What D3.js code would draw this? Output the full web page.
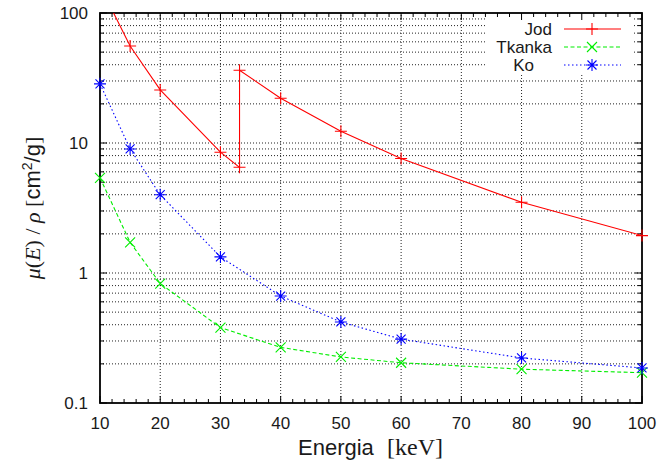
<!DOCTYPE html>
<html lang="pl">
<head>
<meta charset="UTF-8">
<title>Współczynnik osłabienia masowego</title>
<style>
    body { margin: 0; background: #fff; }
    svg { display: block; }
    .tick-label { font-family: "Liberation Sans", Arial, sans-serif; font-size: 17px; fill: #1a1a1a; }
    .legend-label { font-family: "Liberation Sans", Arial, sans-serif; font-size: 17px; fill: #1a1a1a; }
    .grid { stroke: #222; stroke-width: 1; stroke-dasharray: 1,2; fill: none; }
</style>
</head>
<body>
<div id="chart"></div>

<script src="https://cdn.jsdelivr.net/npm/d3@7"></script>
<script>
// energie [keV]
const energy = [10, 15, 20, 30, 40, 50, 60, 80, 100];
// jod ma krawedz K przy 33.17 keV, dlatego osobna os energii
const energyJod = [10, 15, 20, 30, 33.17, 33.17, 40, 50, 60, 80, 100];
const jod = [162, 55.7, 25.6, 8.5, 6.5, 36.3, 22.1, 12.3, 7.6, 3.5, 1.94];
const tkanka = [5.4, 1.72, 0.83, 0.38, 0.268, 0.226, 0.204, 0.182, 0.171];
const ko = [28.5, 9.0, 4.0, 1.33, 0.665, 0.42, 0.31, 0.222, 0.186];

const xTicks = [10, 20, 30, 40, 50, 60, 70, 80, 90, 100];
const yTicks = [0.1, 1, 10, 100];
const yTickLabels = ["0.1", "1", "10", "100"];
const seriesNames = ["Jod", "Tkanka", "Ko"];

const width = 659, height = 468;
const margin = { top: 13, right: 17, bottom: 65, left: 100 };

const svg = d3.select("#chart").append("svg")
    .attr("width", width)
    .attr("height", height);

const x = d3.scaleLinear().domain([10, 100]).range([margin.left, width - margin.right]);
const y = d3.scaleLog().domain([0.1, 100]).range([height - margin.bottom, margin.top]);

const x0 = x.range()[0], x1 = x.range()[1];
const y0 = y.range()[0], y1 = y.range()[1];

svg.append("defs").append("clipPath").attr("id", "plot-clip")
    .append("rect")
    .attr("x", x0).attr("y", y1)
    .attr("width", x1 - x0).attr("height", y0 - y1);

// minor y values: 2..9 x dekada
const yMinor = [];
[0.1, 1, 10].forEach(d => {
    for (let k = 2; k <= 9; k++) yMinor.push(d * k);
});
const xMinor = d3.range(10, 101, 2).filter(v => v % 10 !== 0);

// siatka
const grid = svg.append("g");
grid.selectAll(".gx").data(xTicks.slice(1, -1)).enter().append("line")
    .attr("class", "grid")
    .attr("x1", d => x(d)).attr("x2", d => x(d))
    .attr("y1", y0).attr("y2", y1);
grid.selectAll(".gy").data(yMinor.concat([1, 10])).enter().append("line")
    .attr("class", "grid")
    .attr("x1", x0).attr("x2", x1)
    .attr("y1", d => y(d)).attr("y2", d => y(d));

// tło legendy zakrywa siatkę
svg.append("rect")
    .attr("x", 485).attr("y", 15)
    .attr("width", 147).attr("height", 58)
    .attr("fill", "#fff");

// osie (ticki do środka, na wszystkich bokach)
const axes = svg.append("g").attr("stroke", "#000").attr("stroke-width", 1);
function xTick(v, len) {
    axes.append("line").attr("x1", x(v)).attr("x2", x(v)).attr("y1", y0).attr("y2", y0 - len);
    axes.append("line").attr("x1", x(v)).attr("x2", x(v)).attr("y1", y1).attr("y2", y1 + len);
}
function yTick(v, len) {
    axes.append("line").attr("x1", x0).attr("x2", x0 + len).attr("y1", y(v)).attr("y2", y(v));
    axes.append("line").attr("x1", x1).attr("x2", x1 - len).attr("y1", y(v)).attr("y2", y(v));
}
xTicks.forEach(v => xTick(v, 7));
xMinor.forEach(v => xTick(v, 4));
yTicks.forEach(v => yTick(v, 7));
yMinor.forEach(v => yTick(v, 4));

svg.append("rect")
    .attr("x", x0).attr("y", y1)
    .attr("width", x1 - x0).attr("height", y0 - y1)
    .attr("fill", "none").attr("stroke", "#000").attr("stroke-width", 1.8);

// etykiety ticków
svg.selectAll(".xl").data(xTicks).enter().append("text")
    .attr("class", "tick-label")
    .attr("x", d => x(d)).attr("y", y0 + 26)
    .attr("text-anchor", "middle")
    .text(d => d);
svg.selectAll(".yl").data(yTicks).enter().append("text")
    .attr("class", "tick-label")
    .attr("x", x0 - 12).attr("y", d => y(d) + 6)
    .attr("text-anchor", "end")
    .text((d, i) => yTickLabels[i]);

// tytuły osi
svg.append("text")
    .attr("x", 298).attr("y", 455)
    .attr("font-size", 22).attr("fill", "#1a1a1a")
    .attr("font-family", "Liberation Sans, Arial, sans-serif")
    .text("Energia");
svg.append("text")
    .attr("x", 387).attr("y", 455)
    .attr("font-size", 24).attr("fill", "#1a1a1a")
    .attr("font-family", "Liberation Serif, serif")
    .text("[keV]");

const yt = svg.append("text")
    .attr("transform", `translate(40,${(y0 + y1) / 2}) rotate(-90)`)
    .attr("text-anchor", "middle")
    .attr("font-size", 22).attr("fill", "#1a1a1a")
    .attr("font-family", "Liberation Serif, serif");
yt.append("tspan").attr("font-style", "italic").text("μ");
yt.append("tspan").text("(");
yt.append("tspan").attr("font-style", "italic").text("E");
yt.append("tspan").text(") / ");
yt.append("tspan").attr("font-style", "italic").text("ρ");
yt.append("tspan").text(" [");
yt.append("tspan").attr("font-family", "Liberation Sans, Arial, sans-serif").text("cm");
yt.append("tspan").attr("font-family", "Liberation Sans, Arial, sans-serif")
    .attr("font-size", 14).attr("dy", -8).text("2");
yt.append("tspan").attr("font-family", "Liberation Sans, Arial, sans-serif").attr("dy", 8).text("/g");
yt.append("tspan").text("]");

// serie
const markers = {
    plus: "M-6,0H6M0,-6V6",
    cross: "M-5,-5L5,5M-5,5L5,-5",
    star: "M-6,0H6M0,-6V6M-4.5,-4.5L4.5,4.5M-4.5,4.5L4.5,-4.5"
};
const series = [
    { name: seriesNames[0], xs: energyJod, ys: jod, color: "#ff0000", dash: null, marker: markers.plus },
    { name: seriesNames[1], xs: energy, ys: tkanka, color: "#00ee00", dash: "4,2.5", marker: markers.cross },
    { name: seriesNames[2], xs: energy, ys: ko, color: "#0000ff", dash: "1.5,2.5", marker: markers.star }
];

const line = d3.line().x(d => x(d[0])).y(d => y(d[1]));

series.forEach((s, i) => {
    const pts = s.xs.map((v, j) => [v, s.ys[j]]);
    svg.append("path")
        .datum(pts)
        .attr("clip-path", "url(#plot-clip)")
        .attr("d", line)
        .attr("fill", "none")
        .attr("stroke", s.color)
        .attr("stroke-width", 1.1)
        .attr("stroke-dasharray", s.dash);
    svg.append("g").selectAll("path")
        .data(pts.filter(p => p[1] <= 100 && p[1] >= 0.1))
        .enter().append("path")
        .attr("transform", p => `translate(${x(p[0])},${y(p[1])})`)
        .attr("d", s.marker)
        .attr("fill", "none")
        .attr("stroke", s.color)
        .attr("stroke-width", 1.1);

    // legenda
    const ly = 29 + i * 18;
    svg.append("text")
        .attr("class", "legend-label")
        .attr("x", i === 2 ? 534 : 552).attr("y", ly + 6)
        .attr("text-anchor", "end")
        .text(s.name);
    svg.append("line")
        .attr("x1", 564).attr("x2", 621)
        .attr("y1", ly).attr("y2", ly)
        .attr("stroke", s.color)
        .attr("stroke-width", 1.1)
        .attr("stroke-dasharray", s.dash);
    svg.append("path")
        .attr("transform", `translate(592,${ly})`)
        .attr("d", s.marker)
        .attr("fill", "none")
        .attr("stroke", s.color)
        .attr("stroke-width", 1.1);
});
</script>
</body>
</html>
